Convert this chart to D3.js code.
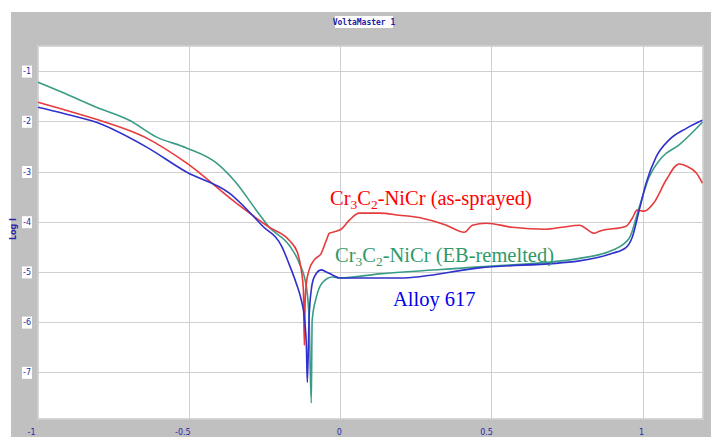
<!DOCTYPE html>
<html>
<head>
<meta charset="utf-8">
<script src="https://cdn.jsdelivr.net/npm/d3@7"></script>
<style>
  html, body { margin: 0; padding: 0; background: #fff; }
  svg { display: block; }
</style>
</head>
<body>
<div id="chart"></div>
<script>
// potential (V) vs log I
const redSeries = [
    [-1.0, -1.62], [-0.93, -1.74], [-0.807, -1.96], [-0.642, -2.33], [-0.509, -2.83],
    [-0.344, -3.63], [-0.235, -4.11], [-0.169, -4.37], [-0.142, -4.61], [-0.129, -4.96],
    [-0.122, -5.36], [-0.119, -6.46], [-0.116, -5.56], [-0.112, -5.22], [-0.103, -4.96],
    [-0.086, -4.76], [-0.063, -4.63], [-0.046, -4.37], [-0.036, -4.23], [-0.013, -4.19],
    [0.003, -4.15], [0.030, -3.97], [0.063, -3.83], [0.129, -3.83], [0.195, -3.87],
    [0.271, -3.93], [0.351, -4.07], [0.410, -4.21], [0.437, -4.07], [0.483, -4.03],
    [0.569, -4.11], [0.681, -4.15], [0.734, -4.11], [0.791, -4.07], [0.840, -4.23],
    [0.857, -4.19], [0.946, -4.09], [0.966, -3.93], [0.982, -3.77], [1.006, -3.79],
    [1.039, -3.61], [1.078, -3.17], [1.121, -2.85], [1.145, -2.89], [1.178, -3.03],
    [1.198, -3.23]
];

const blueSeries = [
    [-1.0, -1.72], [-0.918, -1.84], [-0.807, -2.02], [-0.642, -2.51], [-0.509, -3.01],
    [-0.367, -3.43], [-0.258, -4.08], [-0.192, -4.51], [-0.169, -4.85], [-0.146, -5.22],
    [-0.129, -5.56], [-0.119, -5.90], [-0.112, -6.50], [-0.109, -7.20], [-0.103, -5.90],
    [-0.096, -5.36], [-0.086, -5.10], [-0.063, -4.96], [-0.046, -5.00], [-0.026, -5.06],
    [-0.003, -5.12], [0.195, -5.12], [0.460, -4.92], [0.791, -4.78], [0.900, -4.63],
    [0.946, -4.51], [0.966, -4.31], [0.989, -3.77], [1.012, -3.23], [1.045, -2.71],
    [1.088, -2.37], [1.145, -2.14], [1.198, -1.98]
];

const greenSeries = [
    [-1.0, -1.22], [-0.920, -1.42], [-0.807, -1.72], [-0.698, -1.98], [-0.609, -2.31],
    [-0.509, -2.53], [-0.410, -2.83], [-0.344, -3.23], [-0.278, -3.77], [-0.235, -4.11],
    [-0.169, -4.47], [-0.136, -4.82], [-0.112, -5.30], [-0.103, -5.96], [-0.096, -7.61],
    [-0.093, -5.96], [-0.079, -5.50], [-0.060, -5.22], [-0.026, -5.10], [-0.003, -5.12],
    [0.129, -5.04], [0.460, -4.90], [0.791, -4.73], [0.900, -4.57], [0.956, -4.33],
    [0.989, -3.71], [1.022, -3.11], [1.065, -2.71], [1.121, -2.47], [1.198, -2.02]
];

const xTicks = [-1, -0.5, 0, 0.5, 1];
const yTicks = [-1, -2, -3, -4, -5, -6, -7];

const W = 711, H = 437;
const plot = { left: 38, top: 46, right: 703, bottom: 419 };

const svg = d3.select('#chart').append('svg')
    .attr('width', W)
    .attr('height', H);

// grey window frame
svg.append('rect')
    .attr('x', 11).attr('y', 12)
    .attr('width', W - 11).attr('height', H - 12)
    .attr('fill', '#c0c0c0');

// title box
const title = svg.append('g').attr('transform', 'translate(364,22)');
title.append('rect')
    .attr('x', -29).attr('y', -6)
    .attr('width', 58).attr('height', 12)
    .attr('fill', '#fff');
title.append('text')
    .attr('text-anchor', 'middle')
    .attr('dy', '0.35em')
    .style('font-family', 'DejaVu Sans Mono, monospace')
    .style('font-size', '8px')
    .style('font-weight', 'bold')
    .style('fill', '#2020a0')
    .text('VoltaMaster 1');

const xScale = d3.scaleLinear()
    .domain([-1, 1.2])
    .range([plot.left, plot.right]);

const yScale = d3.scaleLinear()
    .domain([-7.93, -0.5])
    .range([plot.bottom, plot.top]);

// plot area
svg.append('rect')
    .attr('x', plot.left - 1).attr('y', plot.top - 1)
    .attr('width', plot.right - plot.left + 2).attr('height', plot.bottom - plot.top + 2)
    .attr('fill', '#e8e8e8');
svg.append('rect')
    .attr('x', plot.left).attr('y', plot.top)
    .attr('width', plot.right - plot.left).attr('height', plot.bottom - plot.top)
    .attr('fill', '#fff')
    .attr('stroke', '#b0b0b0')
    .attr('stroke-width', 1);

// grid
const grid = svg.append('g').attr('class', 'grid');
grid.selectAll('line.gx')
    .data(xTicks.filter(d => d > -1))
    .enter().append('line')
    .attr('x1', d => Math.round(xScale(d)) + 0.5)
    .attr('x2', d => Math.round(xScale(d)) + 0.5)
    .attr('y1', plot.top)
    .attr('y2', plot.bottom)
    .attr('stroke', '#cfcfcf');
grid.selectAll('line.gy')
    .data(yTicks)
    .enter().append('line')
    .attr('y1', d => Math.round(yScale(d)) + 0.5)
    .attr('y2', d => Math.round(yScale(d)) + 0.5)
    .attr('x1', plot.left)
    .attr('x2', plot.right)
    .attr('stroke', '#cfcfcf');

// axes built with d3 then restyled as small boxed labels
const labelStyle = sel => sel
    .style('font-family', 'DejaVu Sans, sans-serif')
    .style('font-size', '8px')
    .style('fill', '#2828a8');

const yAxis = svg.append('g')
    .attr('transform', `translate(${plot.left - 7},0)`)
    .call(d3.axisLeft(yScale).tickValues(yTicks).tickSize(0).tickFormat(d => d));
yAxis.select('.domain').remove();
yAxis.selectAll('.tick text').attr('x', 0).call(labelStyle);
yAxis.selectAll('.tick').insert('rect', 'text')
    .attr('x', -9).attr('y', -6)
    .attr('width', 10).attr('height', 12)
    .attr('fill', '#fff');

const xAxis = svg.append('g')
    .attr('transform', `translate(0,${plot.bottom + 10})`)
    .call(d3.axisBottom(xScale).tickValues(xTicks).tickSize(0).tickFormat(d => d));
xAxis.select('.domain').remove();
xAxis.selectAll('.tick text')
    .attr('y', 0)
    .attr('dy', '0.71em')
    .attr('text-anchor', 'end')
    .attr('x', d => d === -1 ? -3 : 1)
    .call(labelStyle);

// y axis title
svg.append('text')
    .attr('transform', 'translate(16,229) rotate(-90)')
    .attr('text-anchor', 'middle')
    .style('font-family', 'DejaVu Sans, sans-serif')
    .style('font-size', '8px')
    .style('font-weight', 'bold')
    .style('fill', '#2828a8')
    .text('Log I');

// curves
const line = d3.line()
    .x(d => xScale(d[0]))
    .y(d => yScale(d[1]))
    .curve(d3.curveMonotoneX);

const series = [
    { data: greenSeries, color: '#3a9c86' },
    { data: redSeries, color: '#e63a3c' },
    { data: blueSeries, color: '#3030cc' }
];

const curves = svg.append('g');
series.forEach(s => {
    curves.append('path')
        .datum(s.data)
        .attr('fill', 'none')
        .attr('stroke', s.color)
        .attr('stroke-width', 1.6)
        .attr('stroke-linejoin', 'round')
        .attr('d', line);
});

// annotations
const labels = [
    { parts: [['Cr', 0], ['3', 1], ['C', 0], ['2', 1], ['-NiCr (as-sprayed)', 0]], x: 330, y: 205, color: '#ff0000' },
    { parts: [['Cr', 0], ['3', 1], ['C', 0], ['2', 1], ['-NiCr (EB-remelted)', 0]], x: 335, y: 262, color: '#2f9a68' },
    { parts: [['Alloy 617', 0]], x: 393, y: 306, color: '#0000ee' }
];

labels.forEach(l => {
    const t = svg.append('text')
        .attr('x', l.x)
        .attr('y', l.y)
        .style('font-family', 'Liberation Serif, Times New Roman, serif')
        .style('font-size', '20.5px')
        .style('fill', l.color);
    let shifted = false;
    l.parts.forEach(([txt, sub]) => {
        const ts = t.append('tspan').text(txt);
        if (sub) {
            ts.style('font-size', '13.5px').attr('dy', shifted ? 0 : 4);
            shifted = true;
        } else if (shifted) {
            ts.attr('dy', -4);
            shifted = false;
        }
    });
});
</script>
</body>
</html>
